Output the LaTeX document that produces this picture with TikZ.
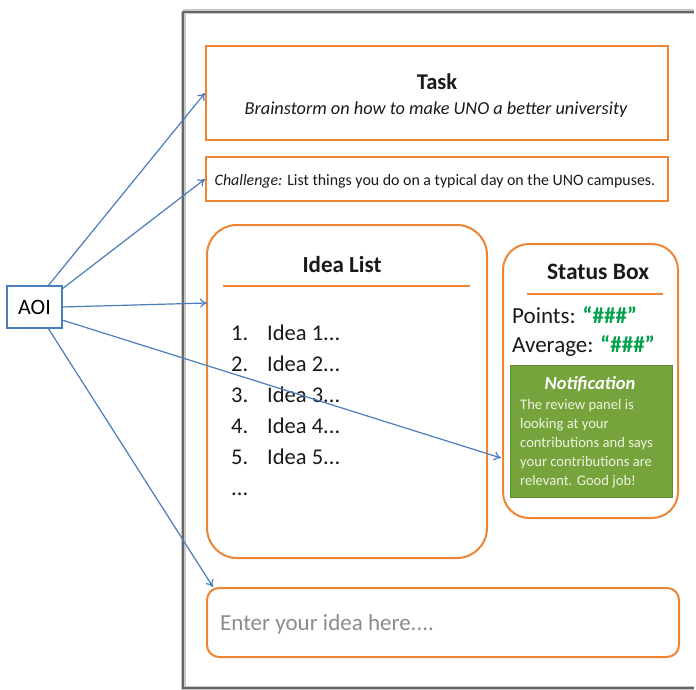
\documentclass[tikz,border=0pt]{standalone}
\usepackage{fontspec}
\setmainfont{Carlito}
\usetikzlibrary{arrows.meta}

\definecolor{panelorange}{HTML}{EE8534}
\definecolor{aoiblue}{HTML}{4A7EBB}
\definecolor{notegreen}{HTML}{76A33B}
\definecolor{notegreenedge}{HTML}{5F8A2E}
\definecolor{scoregreen}{HTML}{00A04A}
\definecolor{notetext}{HTML}{EEF4E2}
\definecolor{hintgray}{HTML}{8C8C8C}
\definecolor{inkdark}{HTML}{1A1A1A}

\newcommand{\fs}[1]{\fontsize{#1}{#1}\selectfont}

\tikzset{
  panel/.style={draw=panelorange, line width=2pt, inner sep=0pt},
  roundpanel/.style={panel, rounded corners=#1},
  label text/.style={inner sep=0pt, text=inkdark},
  aoibox/.style={draw=aoiblue, line width=2pt, fill=white, inner sep=0pt},
  gaze/.style={draw=aoiblue, line width=1.2pt, -{To[length=7pt,width=9pt]}},
}

\begin{document}
\begin{tikzpicture}[x=1pt,y=-1pt]
\useasboundingbox (0,0) rectangle (696,690);
\fill[white] (0,0) rectangle (696,690);

% page frame with a soft shadow (open on the right)
\draw[line width=5pt, black!22] (183,12) -- (183,688) -- (694,688);
\draw[line width=5pt, black!22] (183,12) -- (694,12);
\draw[line width=2pt, black!60] (694,12) -- (183,12) -- (183,688) -- (694,688);

% task header
\node[panel, minimum width=462pt, minimum height=94pt] (task) at (437,93) {};
\node[label text, anchor=base] (tasktitle) at (437,90) {\fs{22.5}\bfseries Task};
\node[label text, anchor=base] (tasksub) at (436,115) {\fs{18.3}\itshape Brainstorm on how to make UNO a better university};

% challenge line
\node[panel, minimum width=462pt, minimum height=44pt] (challenge) at (437,179) {};
\node[label text, anchor=base] (challengetext) at (435,185) {\fs{15.9}\textit{Challenge:} List things you do on a typical day on the UNO campuses.};

% idea list panel
\node[roundpanel=30pt, minimum width=280pt, minimum height=333pt] (idealist) at (347,391.5) {};
\node[label text, anchor=base] (ideatitle) at (342,272) {\fs{23}\bfseries Idea List};
\draw[panelorange, line width=2pt] (223,286) -- (470,286);
\foreach \n/\yy in {1/340,2/371,3/402,4/433,5/464}{
  \node[label text, anchor=base west] (num\n) at (231,\yy) {\fs{22.5}\n.};
  \node[label text, anchor=base west] (idea\n) at (267,\yy) {\fs{22.5}Idea \n...};
}
\node[label text, anchor=base west] (ideamore) at (231,495) {\fs{22.5}...};

% status panel
\node[roundpanel=26pt, minimum width=175pt, minimum height=274pt] (status) at (590.5,381) {};
\node[label text, anchor=base] (statustitle) at (598,279) {\fs{23.5}\bfseries Status Box};
\draw[panelorange, line width=2pt] (527,294) -- (663,294);
\node[label text, anchor=base west] (points) at (512,323) {\fs{23}Points: \textcolor{scoregreen}{\bfseries “\#\#\#”}};
\node[label text, anchor=base west] (average) at (512,352) {\fs{23}Average: \textcolor{scoregreen}{\bfseries “\#\#\#”}};

% notification card
\node[fill=notegreen, draw=notegreenedge, line width=1pt, minimum width=162pt, minimum height=132pt] (note) at (591,431) {};
\node[inner sep=0pt, anchor=base, text=white] (notetitle) at (590,389) {\fs{18.5}\bfseries\itshape Notification};
\foreach \k/\txt/\yy in {1/The review panel is/409, 2/looking at your/428, 3/contributions and says/447, 4/your contributions are/466, 5/relevant. Good job!/485}{
  \node[inner sep=0pt, anchor=base west, text=notetext] (noteline\k) at (520,\yy) {\fs{14.6}\txt};
}

% idea entry field
\node[roundpanel=12pt, minimum width=472pt, minimum height=69pt] (entry) at (443,622.5) {};
\node[inner sep=0pt, anchor=base west, text=hintgray] (entrytext) at (220,630) {\fs{23}Enter your idea here....};

% area-of-interest marker and its gaze arrows
\node[aoibox, minimum width=55pt, minimum height=42pt] (aoi) at (34.5,307) {\fs{22}AOI};
\coordinate (aoiTop) at (48,286);
\coordinate (aoiTopR) at (62,289);
\coordinate (aoiMid) at (62,307);
\coordinate (aoiLow) at (62,320);
\coordinate (aoiBot) at (48,328);
\coordinate (hitIdea) at (207,303);
\coordinate (hitNote) at (501,458);
\coordinate (hitEntry) at (213,587);

\draw[gaze] (aoiTop) -- (task.west);
\draw[gaze] (aoiTopR) -- (challenge.west);
\draw[gaze] (aoiMid) -- (hitIdea);
\draw[gaze] (aoiLow) -- (hitNote);
\draw[gaze] (aoiBot) -- (hitEntry);
\end{tikzpicture}
\end{document}
